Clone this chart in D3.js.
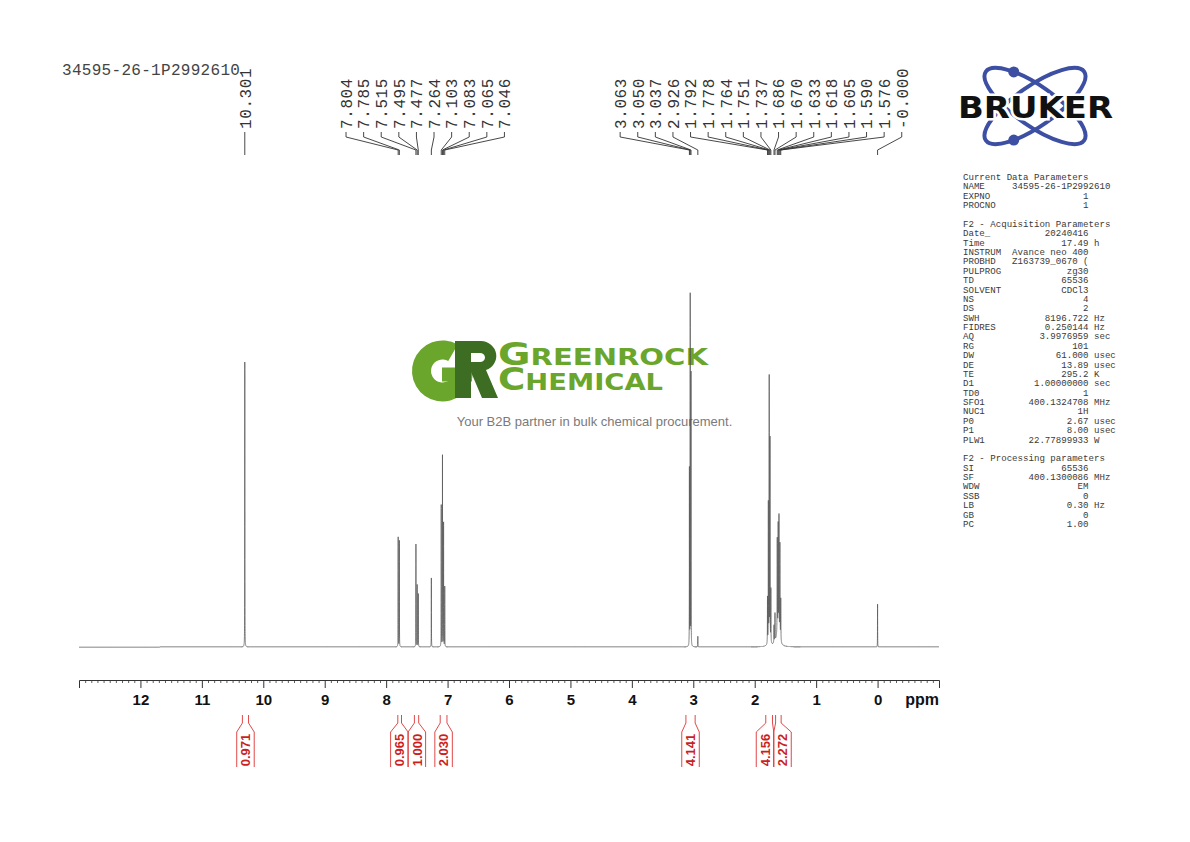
<!DOCTYPE html>
<html><head><meta charset="utf-8">
<script src="https://cdn.jsdelivr.net/npm/d3@7"></script>
<style>body{margin:0;background:#fff}</style>
</head><body><svg id="c" width="1190" height="842"></svg>
<script>
// ---------------- data ----------------
const sampleName = "34595-26-1P2992610";
const peakShifts  = [10.301, 7.804, 7.785, 7.515, 7.495, 7.477, 7.264, 7.103, 7.083, 7.065, 7.046,
                     3.063, 3.050, 3.037, 2.926, 1.792, 1.778, 1.764, 1.751, 1.737,
                     1.686, 1.670, 1.633, 1.618, 1.605, 1.590, 1.576, 0.000];
const peakHeights = [80.5, 31, 30, 29, 17.5, 15, 19.5, 40, 54, 35, 17,
                     50, 99, 77, 3, 13, 39, 74, 57, 15,
                     5, 8, 27, 31, 34, 27, 12, 12.1];
const peakHalfWidths = [0.0012, 0.0012, 0.0012, 0.0012, 0.0012, 0.0012, 0.0012, 0.0012, 0.0012, 0.0012, 0.0012,
                        0.0012, 0.0012, 0.0012, 0.0015, 0.0015, 0.0015, 0.0015, 0.0015, 0.0015,
                        0.0022, 0.0022, 0.0022, 0.0022, 0.0022, 0.0022, 0.0022, 0.0012];
const broadShifts = [1.63, 1.765];
const broadHeights = [3.0, 1.5];
const broadHalfWidths = [0.035, 0.02];
const peakLabels = ["10.301","7.804","7.785","7.515","7.495","7.477","7.264","7.103","7.083","7.065","7.046",
                    "3.063","3.050","3.037","2.926","1.792","1.778","1.764","1.751","1.737",
                    "1.686","1.670","1.633","1.618","1.605","1.590","1.576","-0.000"];
const integralFrom   = [10.34, 7.81, 7.54, 7.12, 3.12, 1.82, 1.66];
const integralTo     = [10.24, 7.75, 7.47, 7.01, 2.97, 1.71, 1.57];
const integralValues = ["0.971","0.965","1.000","2.030","4.141","4.156","2.272"];
const majorTicks = [12,11,10,9,8,7,6,5,4,3,2,1,0];
const axisUnit = "ppm";
const paramLines = [
  ["Current Data Parameters"],
  ["NAME","34595-26-1P2992610"],
  ["EXPNO","1"],
  ["PROCNO","1"],
  [""],
  ["F2 - Acquisition Parameters"],
  ["Date_","20240416"],
  ["Time","17.49","h"],
  ["INSTRUM","Avance neo 400"],
  ["PROBHD","Z163739_0670 ("],
  ["PULPROG","zg30"],
  ["TD","65536"],
  ["SOLVENT","CDCl3"],
  ["NS","4"],
  ["DS","2"],
  ["SWH","8196.722","Hz"],
  ["FIDRES","0.250144","Hz"],
  ["AQ","3.9976959","sec"],
  ["RG","101"],
  ["DW","61.000","usec"],
  ["DE","13.89","usec"],
  ["TE","295.2","K"],
  ["D1","1.00000000","sec"],
  ["TD0","1"],
  ["SFO1","400.1324708","MHz"],
  ["NUC1","1H"],
  ["P0","2.67","usec"],
  ["P1","8.00","usec"],
  ["PLW1","22.77899933","W"],
  [""],
  ["F2 - Processing parameters"],
  ["SI","65536"],
  ["SF","400.1300086","MHz"],
  ["WDW","EM"],
  ["SSB","0"],
  ["LB","0.30","Hz"],
  ["GB","0"],
  ["PC","1.00"]
];
const brandName = "BRUKER";
const wmLine1 = ["G","REENROCK"];
const wmLine2 = ["C","HEMICAL"];
const wmTagline = "Your B2B partner in bulk chemical procurement.";

// ---------------- setup ----------------
const svg = d3.select("#c");
svg.append("rect").attr("width",1190).attr("height",842).attr("fill","#fff");
const x = d3.scaleLinear().domain([13,-1]).range([79,939]);
const y = d3.scaleLinear().domain([0,100]).range([647,293]);
const mono = "'Liberation Mono','DejaVu Sans Mono',monospace";
const sans = "'Liberation Sans',Arial,sans-serif";

// ---------------- watermark ----------------
const wm = svg.append("g");
const gArc = d3.arc().innerRadius(11.5).outerRadius(30.5).startAngle(Math.PI/2).endAngle(2*Math.PI+Math.PI/6);
wm.append("path").attr("d", gArc()).attr("transform","translate(442.5,371)").attr("fill","#6aa52c");
wm.append("rect").attr("x",442).attr("y",367.5).attr("width",30).attr("height",14).attr("fill","#6aa52c");
// monogram "R" mark
wm.append("path").attr("fill-rule","evenodd").attr("fill","#3c6d22")
  .attr("d","M455,341 H481 A16,15 0 0 1 486,370 L498,398 H482 L471,372 V398 H455 Z M471,353 H480 A5,4.5 0 0 1 480,362 H471 Z");
function wmText(parts, yb, len){
  const t = wm.append("text").attr("x",498).attr("y",yb).attr("font-family","'DejaVu Sans',sans-serif")
    .attr("font-weight","bold").attr("fill","#6aa52c").attr("textLength",len).attr("lengthAdjust","spacingAndGlyphs");
  t.append("tspan").attr("font-size",32).text(parts[0]);
  t.append("tspan").attr("font-size",23.5).text(parts[1]);
}
wmText(wmLine1, 365, 210);
wmText(wmLine2, 390, 165);
wm.append("text").attr("x",594.5).attr("y",426).attr("text-anchor","middle").attr("font-family",sans)
  .attr("font-size",13).attr("fill","#7a7a7a").text(wmTagline);

// ---------------- spectrum ----------------
const samples = d3.range(13, -1.00001, -0.0004).concat(peakShifts).sort((a,b)=>b-a);
function intensity(p){
  let s = 0;
  for (let i=0;i<peakShifts.length;i++){ const d=(p-peakShifts[i])/peakHalfWidths[i]; s += peakHeights[i]/(1+d*d); }
  for (let i=0;i<broadShifts.length;i++){ const d=(p-broadShifts[i])/broadHalfWidths[i]; s += broadHeights[i]/(1+d*d); }
  return s;
}
const specData = samples.map(p => [p, intensity(p)]);
svg.append("path").datum(specData)
  .attr("d", d3.line().x(d=>x(d[0])).y(d=>y(d[1])))
  .attr("fill","none").attr("stroke","#555").attr("stroke-width",0.75);

// ---------------- axis ----------------
const axisG = svg.append("g").attr("transform","translate(0,680)");
const minorTicks = d3.range(-10,131).map(v=>v/10).filter(v=>Math.abs(v-Math.round(v))>1e-6);
axisG.append("g").call(d3.axisBottom(x).tickValues(minorTicks).tickSize(3).tickSizeOuter(0).tickFormat(""))
  .call(g=>g.select(".domain").remove())
  .call(g=>g.selectAll("line").attr("stroke","#333").attr("stroke-width",0.8));
axisG.append("g").call(d3.axisBottom(x).tickValues(majorTicks).tickSize(8).tickSizeOuter(8).tickPadding(6.3).tickFormat(d3.format("d")))
  .call(g=>g.select(".domain").attr("stroke","#333").attr("stroke-width",1))
  .call(g=>g.selectAll("line").attr("stroke","#333").attr("stroke-width",1))
  .call(g=>g.selectAll("text").attr("font-family",sans).attr("font-weight","bold").attr("font-size",15).attr("fill","#111"));
svg.append("text").attr("x",939).attr("y",705).attr("text-anchor","end").attr("font-family",sans)
  .attr("font-weight","bold").attr("font-size",16).attr("fill","#111").text(axisUnit);

// ---------------- label spreading ----------------
function spread(centers, s){
  let clusters = centers.map((c,i)=>({idx:[i], vals:[c]}));
  const pos = cl => { const m=d3.mean(cl.vals), n=cl.vals.length; return cl.vals.map((v,k)=>m+(k-(n-1)/2)*s); };
  let merged = true;
  while (merged){
    merged = false;
    for (let i=0;i<clusters.length-1;i++){
      const a=pos(clusters[i]), b=pos(clusters[i+1]);
      if (b[0]-a[a.length-1] < s-1e-9){
        clusters[i] = {idx:clusters[i].idx.concat(clusters[i+1].idx), vals:clusters[i].vals.concat(clusters[i+1].vals)};
        clusters.splice(i+1,1); merged = true; break;
      }
    }
  }
  const out = new Array(centers.length);
  clusters.forEach(cl=>{ const p=pos(cl); cl.idx.forEach((id,k)=>out[id]=p[k]); });
  return out;
}

// ---------------- peak labels ----------------
const peakX = peakLabels.map(l => x(parseFloat(l)));
const labelX = spread(peakX, 17.6);
const lab = svg.append("g");
peakLabels.forEach((l,i)=>{
  const lx = labelX[i], px = peakX[i];
  lab.append("text").attr("transform",`translate(${lx},129) rotate(-90)`).attr("dy","0.36em")
    .attr("font-family",mono).attr("font-size",16).attr("letter-spacing",0.6).attr("fill","#333").text(l);
  lab.append("polyline").attr("points",`${lx},132 ${lx},137 ${px},150 ${px},155`)
    .attr("fill","none").attr("stroke","#333").attr("stroke-width",0.9);
});

// ---------------- title ----------------
svg.append("text").attr("x",62).attr("y",75).attr("font-family",mono).attr("font-size",16)
  .attr("letter-spacing",0.3).attr("fill","#444").text(sampleName);

// ---------------- integrals ----------------
const intCenters = integralFrom.map((f,i)=>(x(f)+x(integralTo[i]))/2);
const boxW = 17.5;
const boxC = spread(intCenters, boxW);
const ig = svg.append("g");
integralValues.forEach((v,i)=>{
  const xa = x(integralFrom[i]), xb = x(integralTo[i]);
  const bl = boxC[i]-boxW/2, br = boxC[i]+boxW/2;
  ig.append("polyline").attr("points",`${xa},715 ${xa},723 ${bl},732 ${bl},767`)
    .attr("fill","none").attr("stroke","#d33").attr("stroke-width",0.9);
  ig.append("polyline").attr("points",`${xb},715 ${xb},723 ${br},732 ${br},767`)
    .attr("fill","none").attr("stroke","#d33").attr("stroke-width",0.9);
  ig.append("text").attr("transform",`translate(${boxC[i]},750) rotate(-90)`).attr("dy","0.36em")
    .attr("text-anchor","middle").attr("font-family",sans).attr("font-weight","bold").attr("font-size",13)
    .attr("fill","#cc1f1f").text(v);
});

// ---------------- Bruker logo ----------------
const logo = svg.append("g");
const cx=1035, cy=106, rx=60, ry=20, th=35;
[th,-th].forEach(a=>{
  logo.append("ellipse").attr("cx",cx).attr("cy",cy).attr("rx",rx).attr("ry",ry)
    .attr("transform",`rotate(${a},${cx},${cy})`).attr("fill","none").attr("stroke","#3d4fa3").attr("stroke-width",4);
});
function ellPt(a,tdeg){ const t=tdeg*Math.PI/180, r=a*Math.PI/180;
  return [cx+rx*Math.cos(t)*Math.cos(r)-ry*Math.sin(t)*Math.sin(r), cy+rx*Math.cos(t)*Math.sin(r)+ry*Math.sin(t)*Math.cos(r)]; }
[[th,232],[-th,128]].forEach(([a,t])=>{
  const p = ellPt(a,t);
  logo.append("circle").attr("cx",p[0]).attr("cy",p[1]).attr("r",5.5).attr("fill","#3d4fa3");
});
logo.append("text").attr("x",958).attr("y",118).attr("font-family","'DejaVu Sans',sans-serif").attr("font-weight","bold")
  .attr("font-size",31).attr("textLength",155).attr("lengthAdjust","spacingAndGlyphs")
  .attr("fill","#111").attr("stroke","#fff").attr("stroke-width",5).attr("paint-order","stroke").text(brandName);

// ---------------- parameters ----------------
const pg = svg.append("g");
paramLines.forEach((ln,i)=>{
  let s;
  if (ln.length===1) s = ln[0];
  else {
    const [lb,val,unit] = ln;
    s = (val.length>14) ? lb.padEnd(9)+val : lb + val.padStart(23-lb.length);
    if (unit) s += " " + unit;
  }
  pg.append("text").attr("x",963).attr("y",180+i*9.378).attr("font-family",mono).attr("font-size",9.1)
    .attr("fill","#3a3a3a").attr("xml:space","preserve").style("white-space","pre").text(s);
});
</script></body></html>
